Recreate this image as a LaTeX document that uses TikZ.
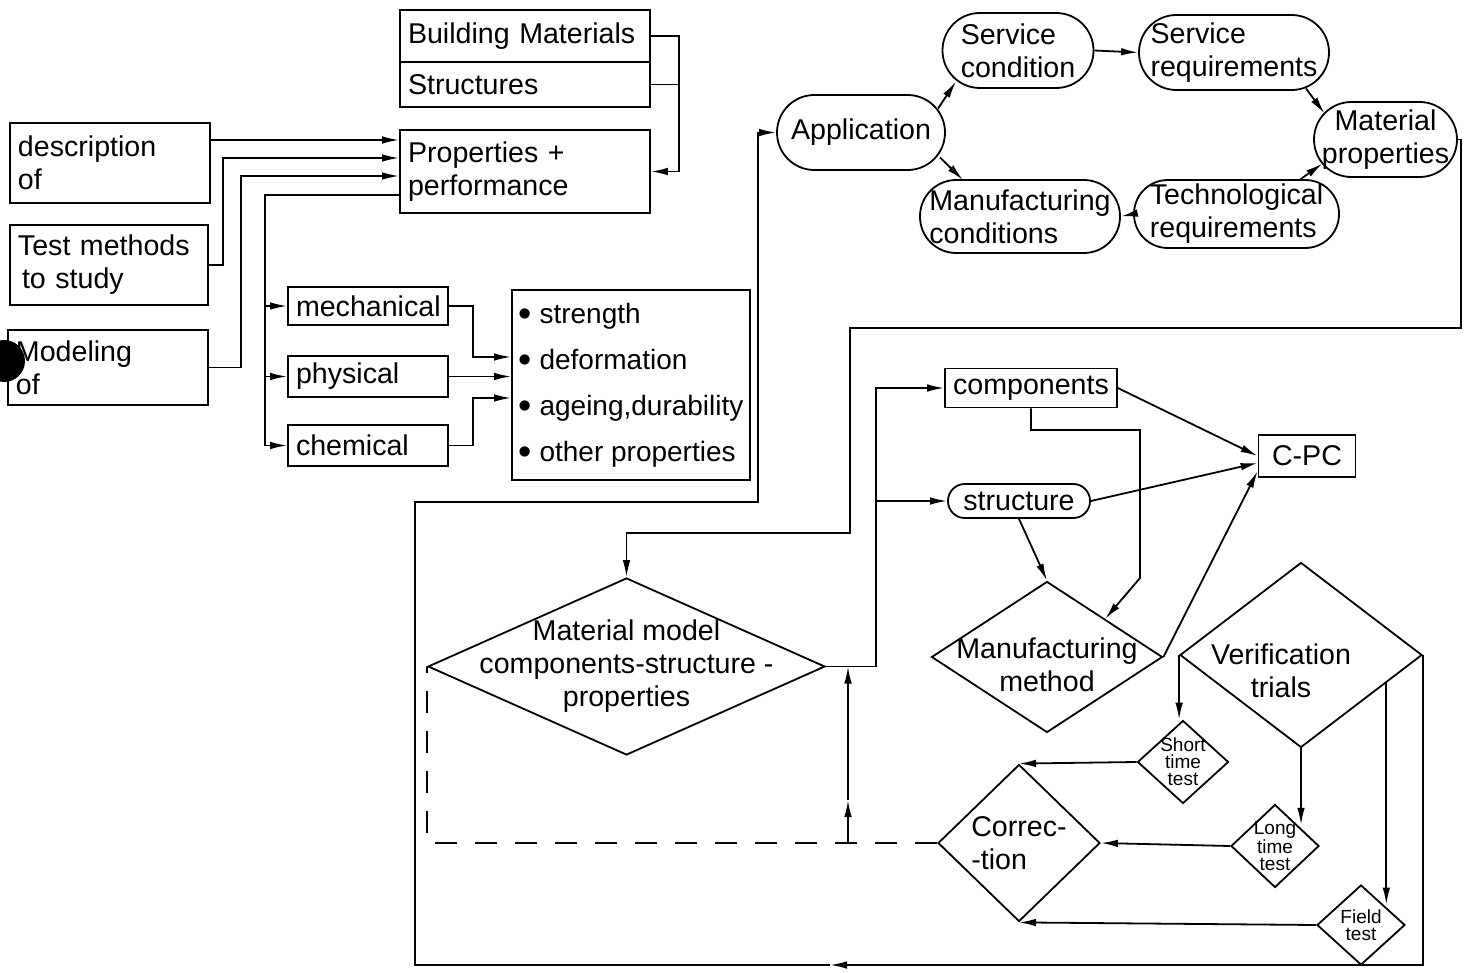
\documentclass[tikz,border=0pt]{standalone}
\usepackage{fontspec}
\setmainfont{Liberation Sans}
\usetikzlibrary{shapes.geometric,arrows.meta,calc}

\newcommand{\blt}{\raisebox{-1.8pt}{\scalebox{1.35}{\textbullet}}}

\begin{document}
\begin{tikzpicture}[x=0.5pt, y=-0.5pt, line width=0.9pt, font=\fontsize{14.3}{16.5}\selectfont]
    \tikzstyle{box} = [draw, rectangle, align=left, inner xsep=4pt, inner ysep=2pt]
    \tikzstyle{oval} = [draw, rectangle, rounded corners=18.7pt, align=left, inner sep=1pt]
    \tikzstyle{dia} = [draw, diamond, inner sep=0pt]
    \tikzstyle{arr} = [-{Latex[length=8.5pt,width=3.8pt]}]
    \tikzstyle{small} = [font=\fontsize{9.5}{8.5}\selectfont]
    \useasboundingbox (0,0) rectangle (1467,973);
    % left column
    \node[box, text width=117pt, minimum height=26pt] (bm) at (525,36) {Building Materials};
    \node[box, text width=117pt, minimum height=22.5pt] (st) at (525,84.5) {Structures};
    \node[box, text width=117pt, minimum height=41.5pt] (pp) at (525,171.5) {Properties +\\performance};
    \node[box, text width=92pt, minimum height=40pt] (desc) at (110,163) {description\\of};
    \node[box, text width=91pt, minimum height=40pt] (test) at (109,265) {Test methods\\\hspace*{2pt}to study};
    \node[box, text width=92pt, minimum height=37.5pt] (mod) at (108,367.5) {Modeling\\of};
    \fill (4,361) circle (10.5pt);
    \node[box, text width=72pt, minimum height=19pt] (mech) at (368,306) {mechanical};
    \node[box, text width=72pt, minimum height=20.5pt] (phys) at (368,376.5) {physical};
    \node[box, text width=72pt, minimum height=20.5pt] (chem) at (368,445.5) {chemical};
    \node[box, inner xsep=3pt, minimum width=119pt, minimum height=95pt, font=\fontsize{14}{23}\selectfont] (list) at (631,385)
      {\blt\ strength\\\blt\ deformation\\\blt\ ageing,durability\\\blt\ other properties};
    % cycle
    \node[oval, minimum width=84pt, minimum height=37.5pt] (app) at (861,132.5) {Application};
    \node[oval, minimum width=75.5pt, minimum height=37.5pt] (sc) at (1018,50.5) {Service\\condition};
    \node[oval, minimum width=95pt, minimum height=37.5pt] (sr) at (1234,52.5) {Service\\requirements};
    \node[oval, minimum width=71.5pt, minimum height=37.5pt, align=center] (mp) at (1385.5,139.5) {Material\\properties};
    \node[oval, rounded corners=16.9pt, minimum width=102.5pt, minimum height=34pt] (tr) at (1236.5,214) {Technological\\requirements};
    \node[oval, rounded corners=18.1pt, minimum width=100pt, minimum height=36.5pt] (mc) at (1020,216.5) {Manufacturing\\conditions};
    % model part
    \node[dia, minimum width=198.5pt, minimum height=88.5pt,
      label={[align=center]center:{Material model\\components-structure -\\properties}}] (mm) at (626.5,666.5) {};
    \node[box, minimum width=82.5pt, minimum height=19.5pt] (comp) at (1031,388) {components};
    \node[oval, rounded corners=8.4pt, minimum width=71pt, minimum height=17pt] (struc) at (1019,501) {structure};
    \node[box, minimum width=48.5pt, minimum height=21pt] (cpc) at (1307,456) {C-PC};
    \node[dia, minimum width=115.5pt, minimum height=75.5pt,
      label={[align=center, yshift=-4pt]center:{Manufacturing\\method}}] (mf) at (1047,657) {};
    \node[dia, minimum width=121pt, minimum height=92.5pt,
      label={[align=center, xshift=-10pt, yshift=-8pt]center:{Verification\\trials}}] (vt) at (1301,655) {};
    \node[dia, minimum width=45.5pt, minimum height=41.5pt, label={[small, align=center]center:{Short\\time\\test}}] (stt) at (1183,762) {};
    \node[dia, minimum width=44pt, minimum height=41.5pt, label={[small, align=center]center:{Long\\time\\test}}] (ltt) at (1275,846) {};
    \node[dia, minimum width=44pt, minimum height=40pt, label={[small, align=center]center:{Field\\test}}] (ft) at (1361,925) {};
    \node[dia, minimum width=81pt, minimum height=78.5pt, label={[align=left]center:{Correc-\\-tion}}] (cor) at (1019,843) {};
    % left connectors
    \draw[arr] (bm.east) -- ++(28,0) |- (pp.east);
    \draw (st.east) -- ++(28,0);
    \draw[arr] (desc.east |- 0,140) -- (pp.west |- 0,140);
    \draw[arr] (test.east) -- ++(14,0) |- (pp.west |- 0,158);
    \draw[arr] (mod.east) -- ++(32,0) |- (pp.west |- 0,176);
    \coordinate (split) at (265,195);
    \draw[arr] (pp.west |- split) -- (split) |- (chem.west);
    \draw[arr] (split |- mech.west) -- (mech.west);
    \draw[arr] (split |- phys.west) -- (phys.west);
    \draw[arr] (mech.east) -- ++(24,0) |- (list.west |- 0,357);
    \draw[arr] (phys.east) -- (list.west |- phys.east);
    \draw[arr] (chem.east) -- ++(24,0) |- (list.west |- 0,398);
    % cycle connectors
    \draw[arr] ($(app)+(77,-24)$) -- ($(sc)+(-62,31)$);
    \draw[arr] ($(app)+(79,25)$) -- ($(mc)+(-57,-36.5)$);
    \draw[arr] (sc.east) -- (sr.west);
    \draw[arr] ($(sr)+(72,36)$) -- ($(mp)+(-61,-26)$);
    \draw[arr] ($(tr)+(63,-34)$) -- ($(mp)+(-63,24)$);
    \draw[arr] (tr.west) -- (mc.east);
    \draw[arr] (mp.east) -- ++(3,0) |- (850,328) |- (mm.north |- 0,533) -- (mm.north);
    % model connectors
    \coordinate (bus) at (876,0);
    \draw[arr] (mm.east) -| (bus |- comp.west) -- (comp.west);
    \draw[arr] (bus |- struc.west) -- (struc.west);
    \draw[arr] (comp.east) -- (cpc.west);
    \draw[arr] (struc.east) -- (cpc.188);
    \draw[arr] (mf.east) -- (cpc.197);
    \draw[arr] (struc.south) -- (mf.north);
    \draw[arr] (comp.south) |- (1140,430) -- (1140,578) -- (mf.north east);
    % verification
    \draw[arr] (vt.west) -- (vt.west |- stt.north);
    \draw[arr] (vt.south) -- (vt.south |- ltt.north east);
    \coordinate (vtr) at ($(vt.east)!0.3!(vt.south)$);
    \draw[arr] (vtr) -- (vtr |- ft.north east);
    \draw[arr] (stt.west) -- (cor.north);
    \draw[arr] (ltt.west) -- (cor.east);
    \draw[arr] (ft.west) -- (cor.south);
    \draw[dash pattern=on 11pt off 9pt] (cor.west) -| (mm.west);
    \coordinate (up) at (848,800);
    \draw[arr] (cor.west -| up) -- (up);
    \draw[arr] (up) -- (mm.east -| up);
    \coordinate (lp) at (830,965);
    \draw[arr] (vt.east) |- (lp);
    \draw[arr] (lp) -- (415,965) |- (758,502) |- (app.west);
\end{tikzpicture}
\end{document}
